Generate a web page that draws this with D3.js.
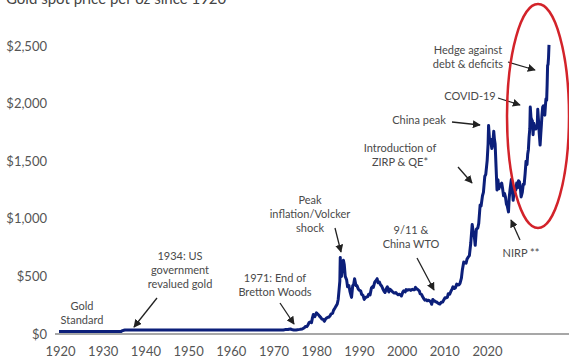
<!DOCTYPE html>
<html>
<head>
<meta charset="utf-8">
<script src="https://cdn.jsdelivr.net/npm/d3@7"></script>
<style>
  html, body { margin: 0; padding: 0; background: #fff; }
  svg { display: block; font-family: Lato, "Open Sans", sans-serif; }
</style>
</head>
<body>
<svg id="chart" width="569" height="360"></svg>
<script>
// ---- data ----
const title = "Gold spot price per oz since 1920";
const yTicks = [0, 500, 1000, 1500, 2000, 2500];
const decadeLabels = [1920, 1930, 1940, 1950, 1960, 1970, 1980, 1990, 2000, 2010, 2020];

// decimal year
const dates = [
  1920, 1933.2, 1933.5, 1933.8, 1934.1, 1967.9,
  1968.1, 1968.4, 1968.6, 1968.9,
  1969.1, 1969.4, 1969.6, 1969.9,
  1970.1, 1970.4, 1970.6, 1970.9,
  1971.1, 1971.4, 1971.6, 1971.9,
  1972.1, 1972.4, 1972.6, 1972.9,
  1973.1, 1973.4, 1973.6, 1973.9,
  1974.1, 1974.3, 1974.6, 1974.95,
  1975.1, 1975.4, 1975.6, 1975.9,
  1976.1, 1976.4, 1976.65, 1976.9,
  1977.1, 1977.4, 1977.6, 1977.9,
  1978.1, 1978.4, 1978.6, 1978.9,
  1979.1, 1979.4, 1979.6, 1979.8, 1979.95,
  1980.04, 1980.15, 1980.3, 1980.45, 1980.72, 1980.9,
  1981.1, 1981.4, 1981.6, 1981.9,
  1982.1, 1982.45, 1982.7, 1982.9,
  1983.1, 1983.4, 1983.6, 1983.9,
  1984.1, 1984.4, 1984.6, 1984.9,
  1985.15, 1985.4, 1985.6, 1985.9,
  1986.1, 1986.4, 1986.7, 1986.9,
  1987.1, 1987.4, 1987.6, 1987.92,
  1988.1, 1988.4, 1988.6, 1988.9,
  1989.1, 1989.4, 1989.6, 1989.9,
  1990.1, 1990.4, 1990.6, 1990.9,
  1991.1, 1991.4, 1991.6, 1991.9,
  1992.1, 1992.4, 1992.6, 1992.9,
  1993.1, 1993.4, 1993.6, 1993.9,
  1994.1, 1994.4, 1994.6, 1994.9,
  1995.1, 1995.4, 1995.6, 1995.9,
  1996.1, 1996.4, 1996.6, 1996.9,
  1997.1, 1997.4, 1997.6, 1997.9,
  1998.1, 1998.4, 1998.6, 1998.9,
  1999.1, 1999.4, 1999.55, 1999.8, 1999.95,
  2000.1, 2000.4, 2000.6, 2000.9,
  2001.1, 2001.3, 2001.6, 2001.9,
  2002.1, 2002.4, 2002.6, 2002.9,
  2003.1, 2003.4, 2003.6, 2003.9,
  2004.1, 2004.4, 2004.6, 2004.9,
  2005.1, 2005.4, 2005.6, 2005.9,
  2006.1, 2006.4, 2006.6, 2006.9,
  2007.1, 2007.4, 2007.6, 2007.9,
  2008.2, 2008.4, 2008.6, 2008.85,
  2009.1, 2009.4, 2009.6, 2009.9,
  2010.1, 2010.4, 2010.6, 2010.9,
  2011.1, 2011.4, 2011.6, 2011.7, 2011.9,
  2012.1, 2012.4, 2012.6, 2012.8, 2012.95,
  2013.1, 2013.3, 2013.5, 2013.7, 2013.9,
  2014.1, 2014.3, 2014.5, 2014.7, 2014.9,
  2015.1, 2015.3, 2015.5, 2015.7, 2015.95,
  2016.1, 2016.3, 2016.55, 2016.75, 2016.95,
  2017.1, 2017.3, 2017.5, 2017.7, 2017.9,
  2018.1, 2018.3, 2018.5, 2018.65, 2018.9,
  2019.1, 2019.3, 2019.5, 2019.7, 2019.9,
  2020.05, 2020.2, 2020.35, 2020.5, 2020.6, 2020.75, 2020.9,
  2021.05, 2021.2, 2021.35, 2021.5, 2021.65, 2021.8, 2021.95,
  2022.1, 2022.2, 2022.35, 2022.5, 2022.7, 2022.85, 2022.95,
  2023.1, 2023.25, 2023.4, 2023.55, 2023.7, 2023.85, 2023.95,
  2024.1, 2024.2, 2024.3, 2024.4, 2024.5, 2024.6
];

const prices = [
  20.67, 20.67, 28, 32, 35, 35,
  36, 40, 39, 39,
  42, 43, 41, 36,
  35, 35.5, 35.5, 37,
  38, 40, 42, 43,
  48, 55, 65, 64,
  75, 100, 105, 98,
  140, 170, 150, 183,
  178, 167, 155, 142,
  130, 127, 110, 130,
  138, 145, 146, 160,
  175, 179, 205, 225,
  240, 260, 300, 390, 460,
  665, 560, 500, 560, 640, 600,
  500, 470, 410, 420,
  370, 318, 420, 430,
  480, 420, 420, 390,
  380, 375, 345, 335,
  300, 315, 320, 325,
  345, 340, 400, 410,
  405, 450, 460, 480,
  445, 450, 430, 415,
  395, 370, 360, 395,
  410, 365, 390, 380,
  370, 360, 355, 360,
  350, 340, 345, 340,
  330, 365, 375, 365,
  385, 380, 385, 385,
  378, 388, 384, 385,
  405, 390, 385, 375,
  350, 343, 325, 305,
  294, 298, 288, 293,
  288, 275, 258, 300, 285,
  290, 280, 278, 268,
  264, 260, 275, 278,
  293, 315, 313, 318,
  350, 345, 365, 390,
  410, 395, 400, 433,
  426, 428, 440, 485,
  555, 625, 620, 615,
  650, 670, 680, 790,
  950, 895, 870, 770,
  910, 920, 960, 1120,
  1110, 1200, 1230, 1370,
  1385, 1505, 1650, 1810, 1690,
  1690, 1610, 1650, 1760, 1690,
  1650, 1450, 1250, 1340, 1260,
  1290, 1300, 1310, 1260, 1200,
  1220, 1190, 1130, 1110, 1060,
  1180, 1260, 1340, 1270, 1160,
  1220, 1260, 1250, 1310, 1270,
  1330, 1320, 1260, 1190, 1230,
  1300, 1300, 1390, 1500, 1470,
  1560, 1600, 1710, 1780, 1970, 1880, 1860,
  1850, 1730, 1830, 1800, 1780, 1780, 1800,
  1820, 1950, 1860, 1750, 1640, 1740, 1800,
  1900, 1970, 1980, 1940, 1900, 1990, 2040,
  2030, 2160, 2330, 2340, 2400, 2510
];

// annotations: text lines, label anchor (x,y of first line), arrow [x1,y1,x2,y2]
const annoTexts = [
  ["Gold", "Standard"],
  ["1934: US", "government", "revalued gold"],
  ["1971: End of", "Bretton Woods"],
  ["Peak", "inflation/Volcker", "shock"],
  ["9/11 &", "China WTO"],
  ["Introduction of", "ZIRP & QE*"],
  ["China peak"],
  ["COVID-19"],
  ["Hedge against", "debt & deficits"],
  ["NIRP **"]
];
const annoPos = [
  [82, 310], [180, 260], [275, 282], [310, 204], [411, 234],
  [400, 152], [419, 124], [470, 100], [468, 54], [521, 257]
];
const annoArrows = [
  null,
  [157, 298, 134, 327],
  [280, 303, 294, 324],
  [335, 228, 341, 252],
  [417, 258, 434, 290],
  [458, 167, 472, 183],
  [452, 122, 480, 125],
  [498, 98, 520, 105],
  [508, 62, 535, 70],
  [520, 240, 511, 220]
];

// ---- drawing ----
const svg = d3.select("#chart");
const W = 569, H = 360;

const x = d3.scaleLinear().domain([1920, 2024.6]).range([59, 549]);
const y = d3.scaleLinear().domain([0, 2500]).range([334, 46]);
const xLab = d3.scaleLinear().domain([1920, 2020]).range([60, 487]);

const defs = svg.append("defs");
defs.append("marker")
  .attr("id", "ah")
  .attr("viewBox", "0 0 10 10")
  .attr("refX", 9).attr("refY", 5)
  .attr("markerWidth", 8).attr("markerHeight", 8)
  .attr("markerUnits", "userSpaceOnUse")
  .attr("orient", "auto")
  .append("path").attr("d", "M0,0 L10,5 L0,10 Z").attr("fill", "#222");

// title (partially cut off at top)
svg.append("text")
  .attr("x", 6).attr("y", 4)
  .attr("font-size", 15).attr("fill", "#444")
  .text(title);

// baseline
svg.append("line")
  .attr("x1", 55).attr("x2", W)
  .attr("y1", y(0)).attr("y2", y(0))
  .attr("stroke", "#8a8a8a").attr("stroke-width", 1.5);

// y axis
const yAxis = svg.append("g")
  .attr("transform", "translate(55,0)")
  .call(d3.axisLeft(y).tickValues(yTicks).tickSize(0).tickPadding(8)
    .tickFormat(d => "$" + d3.format(",")(d)));
yAxis.select(".domain").remove();
yAxis.selectAll("text").attr("font-size", 13).attr("fill", "#555")
  .attr("font-family", "Lato, sans-serif");

// x axis (decade labels)
const xAxis = svg.append("g")
  .attr("transform", `translate(0,${y(0)})`)
  .call(d3.axisBottom(xLab).tickValues(decadeLabels).tickSize(0).tickPadding(13)
    .tickFormat(d3.format("d")));
xAxis.select(".domain").remove();
xAxis.selectAll("text").attr("font-size", 13).attr("fill", "#555")
  .attr("font-family", "Lato, sans-serif");

// price line
const series = dates.map((d, i) => ({ t: d, v: prices[i] }));
svg.append("path")
  .datum(series)
  .attr("fill", "none")
  .attr("stroke", "#0c1f7a")
  .attr("stroke-width", 3)
  .attr("stroke-linejoin", "round")
  .attr("d", d3.line().x(d => x(d.t)).y(d => y(d.v)));

// annotations
annoTexts.forEach((lines, i) => {
  const t = svg.append("text")
    .attr("text-anchor", "middle")
    .attr("font-size", 11)
    .attr("fill", "#4a4a4a");
  lines.forEach((ln, j) => {
    t.append("tspan")
      .attr("x", annoPos[i][0])
      .attr("y", annoPos[i][1] + j * 14)
      .text(ln);
  });
  const a = annoArrows[i];
  if (a) {
    svg.append("line")
      .attr("x1", a[0]).attr("y1", a[1]).attr("x2", a[2]).attr("y2", a[3])
      .attr("stroke", "#222").attr("stroke-width", 1.3)
      .attr("marker-end", "url(#ah)");
  }
});

// red highlight ellipse
svg.append("ellipse")
  .attr("cx", 538).attr("cy", 116)
  .attr("rx", 31).attr("ry", 112)
  .attr("fill", "none")
  .attr("stroke", "#d3232a")
  .attr("stroke-width", 2.5);
</script>
</body>
</html>
